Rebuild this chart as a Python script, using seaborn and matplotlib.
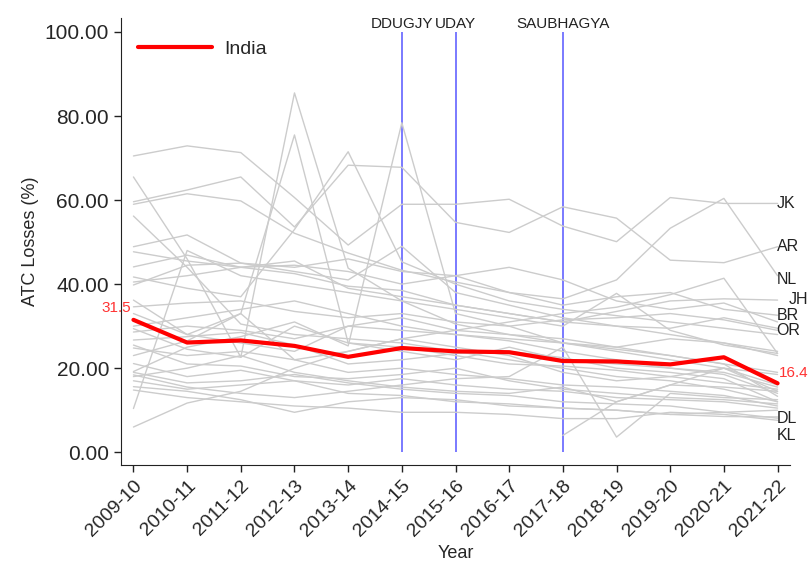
import numpy as np
import pandas as pd
import matplotlib
matplotlib.use("Agg")
import matplotlib.pyplot as plt
import seaborn as sns

years = ["2009-10", "2010-11", "2011-12", "2012-13", "2013-14", "2014-15", "2015-16",
         "2016-17", "2017-18", "2018-19", "2019-20", "2020-21", "2021-22"]

india = [31.5, 26.1, 26.6, 25.3, 22.7, 24.8, 24.0, 23.8, 21.7, 21.6, 20.9, 22.6, 16.4]

nan = np.nan
states = {
    "JK": [70.5, 72.9, 71.3, 60.6, 49.3, 59.0, 59.0, 60.2, 53.8, 50.1, 60.6, 59.2, 59.2],
    "AR": [59.6, 62.4, 65.5, 53.6, 68.3, 67.8, 54.7, 52.3, 58.4, 55.7, 45.7, 45.1, 48.9],
    "NL": [59.0, 61.5, 59.8, 52.1, 47.4, 43.3, 40.5, 38.0, 36.5, 41.0, 53.3, 60.4, 42.0],
    "MN": [65.5, 46.0, 22.6, 85.5, 43.8, 36.0, 30.5, 28.0, 27.0, 25.0, 23.0, 21.0, 19.0],
    "ML": [36.2, 28.0, 33.0, 75.5, 26.0, 25.0, 23.0, 21.0, 20.5, 19.5, 18.0, 16.5, 15.0],
    "MZ": [19.2, 25.0, 27.5, 31.0, 25.3, 78.4, 33.0, 30.0, 26.0, 24.0, 22.0, 20.0, 18.5],
    "SK": [41.7, 39.0, 37.0, 53.0, 71.5, 45.3, 40.0, 36.0, 34.0, 32.5, 31.0, 29.5, 28.0],
    "TR": [56.2, 44.0, 30.5, 28.0, 27.0, 26.0, 24.0, 22.0, 20.0, 18.0, 17.0, 15.0, 12.0],
    "UP": [48.9, 51.7, 45.0, 43.0, 41.0, 49.0, 38.0, 35.0, 32.0, 30.0, 28.0, 26.0, 24.0],
    "MP": [47.7, 45.5, 44.0, 44.5, 43.0, 40.0, 42.0, 44.0, 41.0, 36.0, 34.0, 35.5, 31.0],
    "AS": [44.1, 46.9, 44.0, 42.5, 39.5, 38.5, 35.0, 33.0, 31.0, 30.0, 29.5, 32.0, 29.5],
    "JH": [40.5, 42.0, 44.0, 45.5, 39.0, 37.0, 35.0, 33.0, 31.0, 33.5, 36.0, 36.5, 36.2],
    "BR": [39.8, 44.5, 45.0, 44.0, 46.0, 43.0, 42.0, 38.0, 35.0, 37.0, 38.0, 34.0, 32.6],
    "OR": [34.6, 35.5, 36.0, 33.5, 32.0, 33.0, 31.0, 30.0, 31.5, 32.0, 33.0, 31.5, 29.0],
    "GA": [10.4, 48.0, 42.0, 40.0, 38.0, 36.0, 34.0, 32.0, 30.0, 37.8, 29.0, 25.5, 23.5],
    "PY": [6.0, 11.7, 14.5, 20.0, 24.0, 27.0, 29.0, 31.0, 33.0, 34.5, 37.5, 41.4, 23.5],
    "RJ": [29.4, 24.5, 22.6, 30.0, 26.0, 24.0, 22.0, 25.0, 22.0, 21.0, 20.0, 18.5, 14.0],
    "CG": [28.6, 30.0, 29.0, 27.0, 30.0, 29.0, 28.0, 27.0, 26.0, 24.5, 23.0, 21.0, 13.3],
    "HR": [26.7, 27.5, 28.5, 25.5, 21.0, 22.0, 23.5, 24.0, 22.5, 20.0, 19.0, 17.5, 12.0],
    "KA": [25.5, 21.0, 20.5, 18.0, 17.5, 18.5, 20.0, 17.0, 15.0, 14.0, 13.0, 12.5, 11.5],
    "TN": [24.8, 23.0, 24.0, 22.0, 19.0, 20.0, 18.5, 17.5, 16.0, 15.5, 14.5, 13.5, 11.0],
    "MH": [21.1, 18.0, 19.5, 17.0, 16.0, 17.5, 16.0, 15.0, 14.5, 13.0, 12.5, 12.0, 10.5],
    "PB": [19.0, 16.5, 17.0, 18.5, 16.5, 15.0, 14.0, 13.5, 12.0, 11.5, 11.0, 9.5, 10.0],
    "HP": [18.4, 15.5, 14.0, 13.0, 14.5, 16.0, 17.5, 18.0, 25.0, 3.6, 14.0, 13.0, 12.5],
    "TS": [nan, nan, nan, nan, nan, nan, nan, nan, 4.0, 12.0, 16.0, 20.0, 14.5],
    "WB": [18.0, 20.0, 23.0, 19.0, 17.0, 15.5, 14.5, 14.0, 15.5, 12.0, 16.0, 15.5, 14.5],
    "GJ": [15.6, 14.5, 12.5, 9.5, 12.0, 13.0, 12.5, 11.0, 10.5, 10.0, 9.0, 8.5, 8.4],
    "KL": [14.8, 13.0, 12.0, 11.0, 10.5, 9.5, 9.5, 9.0, 8.0, 8.0, 9.5, 9.0, 7.6],
    "DL": [17.0, 15.0, 16.0, 17.0, 14.0, 13.5, 12.0, 11.5, 10.5, 10.0, 9.0, 9.5, 8.1],
    "UK": [30.0, 32.0, 34.0, 36.0, 33.0, 30.0, 28.0, 26.5, 24.0, 22.0, 20.0, 19.0, 15.5],
    "AP": [33.0, 28.0, 26.0, 24.0, 30.0, 32.0, 29.0, 28.0, 26.0, 25.0, 27.0, 26.0, 23.0],
    "CH": [23.0, 26.5, 33.0, 22.0, 24.0, 27.0, 25.0, 23.0, 19.0, 17.0, 18.0, 20.0, 16.0],
}

# states named at the right edge, with a small vertical nudge (in % points)
labelled = {"JK": 0.0, "AR": 0.0, "NL": -0.8, "JH": 0.2, "BR": 0.0, "OR": 0.0,
            "DL": 0.0, "KL": -3.6}
label_dx = {"JH": 0.22}

schemes = ["DDUGJY", "UDAY", "SAUBHAGYA"]
scheme_years = ["2014-15", "2015-16", "2017-18"]

sns.set_style("ticks")
plt.rcParams["font.family"] = ["Liberation Sans Narrow", "Liberation Sans", "DejaVu Sans"]

long = pd.DataFrame(
    [(s, i, v) for s, vals in states.items() for i, v in enumerate(vals)],
    columns=["state", "t", "atc"],
).dropna()
nat = pd.DataFrame({"t": np.arange(len(years)), "atc": india})

fig = plt.figure(figsize=(8.11, 5.66), dpi=100)
ax = fig.add_axes([0.149, 0.178, 0.825, 0.790])

sns.lineplot(data=long, x="t", y="atc", units="state", estimator=None,
             color="#cccccc", linewidth=1.0, ax=ax, legend=False)
sns.lineplot(data=nat, x="t", y="atc", color="#ff0000", linewidth=3.0,
             ax=ax, label="India")

for name, yr in zip(schemes, scheme_years):
    xi = years.index(yr)
    ax.vlines(xi, 0, 100, color="#7070ff", linewidth=1.3, zorder=1)
    ax.text(xi, 102.0, name, ha="center", va="center", fontsize=11, color="#222222")

last = len(years) - 1
for s, dy in labelled.items():
    ax.text(last - 0.02 + label_dx.get(s, 0.0), states[s][-1] + dy, s,
            ha="left", va="center", fontsize=11.5, color="#222222",
            family=["Liberation Sans", "DejaVu Sans"])

ax.text(-0.05, india[0] + 2.8, f"{india[0]:.1f}", ha="right", va="center",
        fontsize=11, color="#ff3333", family=["Liberation Sans", "DejaVu Sans"])
ax.text(last + 0.03, india[-1] + 2.4, f"{india[-1]:.1f}", ha="left", va="center",
        fontsize=11, color="#ff3333", family=["Liberation Sans", "DejaVu Sans"])

ax.set_xlim(-0.235, 12.23)
ax.set_ylim(-3.1, 103.3)
ax.set_xticks(range(len(years)))
ax.set_xticklabels(years, rotation=45, ha="right", rotation_mode="anchor", fontsize=14)
ax.set_yticks(np.arange(0, 101, 20))
ax.set_yticklabels([f"{v:.2f}" for v in np.arange(0, 101, 20)], fontsize=15)
ax.tick_params(axis="both", direction="out", length=5, width=1, color="#222222")
ax.set_xlabel("Year", fontsize=13, family=["Liberation Sans", "DejaVu Sans"])
ax.set_ylabel("ATC Losses (%)", fontsize=13, family=["Liberation Sans", "DejaVu Sans"])
sns.despine(ax=ax)
for sp in ("left", "bottom"):
    ax.spines[sp].set_color("#222222")

ax.legend(loc="upper left", frameon=False, fontsize=14, handlelength=3.8,
          handletextpad=0.6, bbox_to_anchor=(0.0, 0.99))

fig.savefig("out.png", dpi=100)
